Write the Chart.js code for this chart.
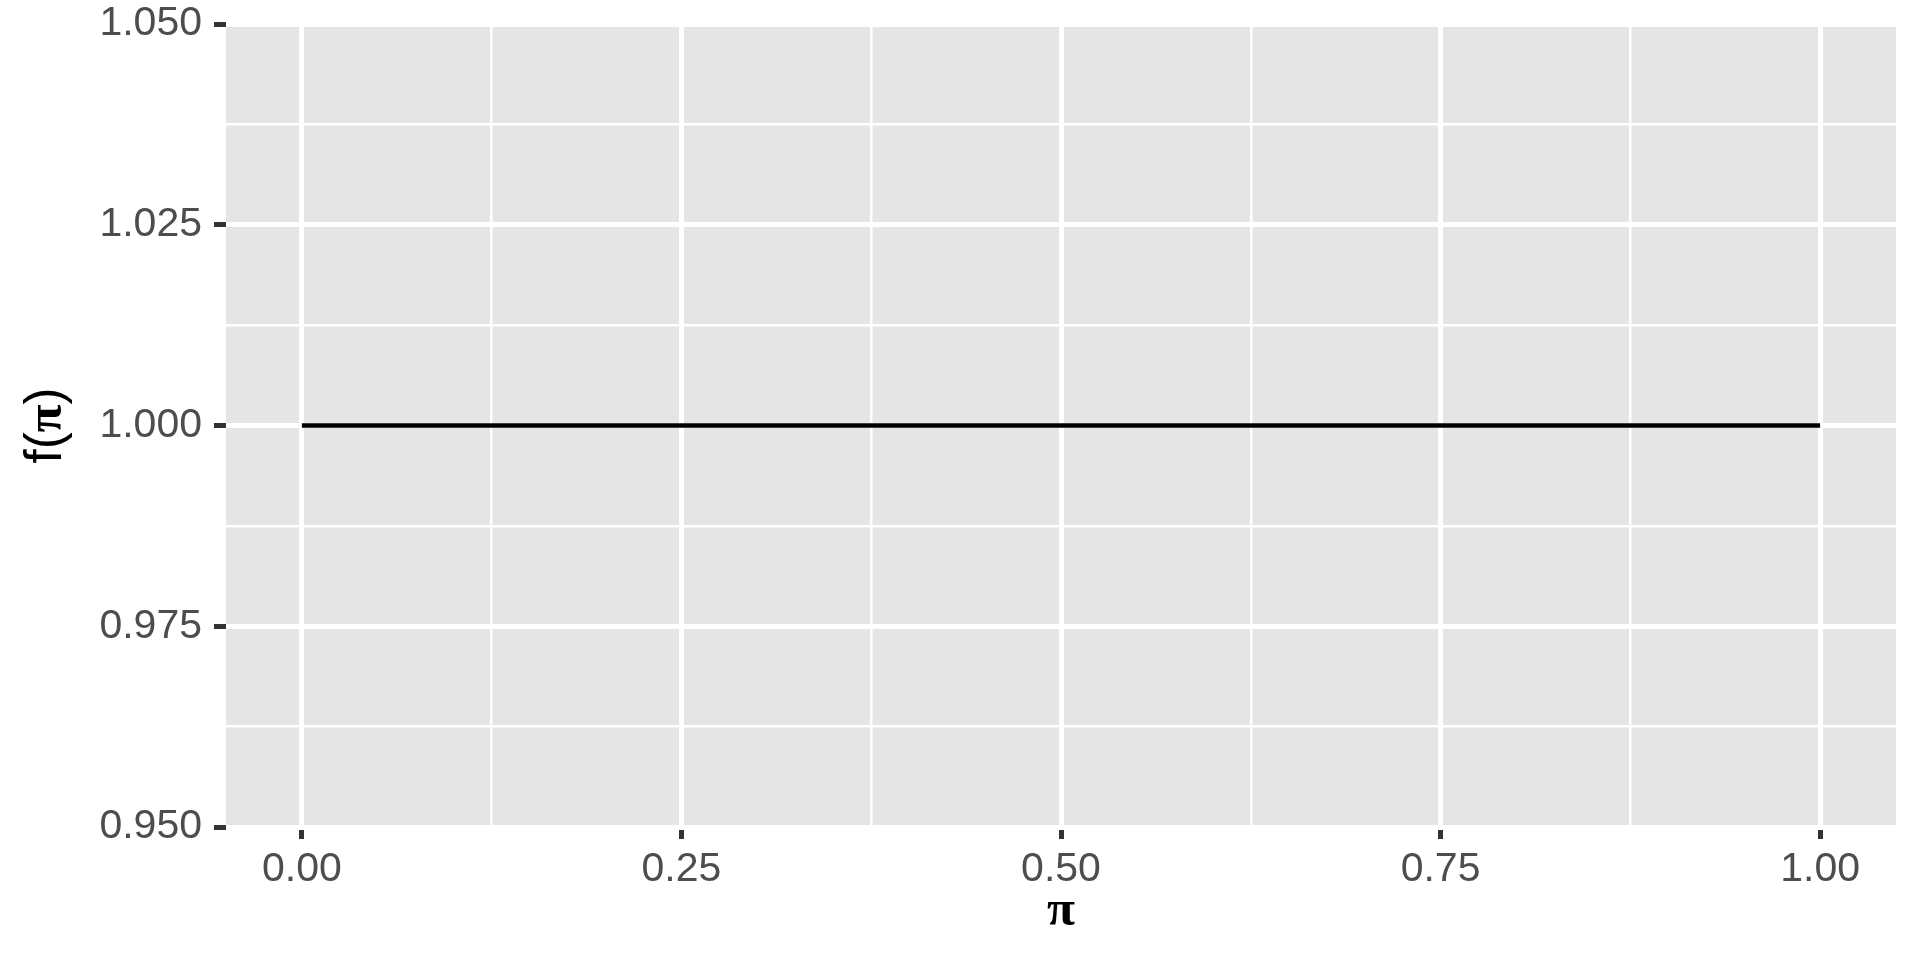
<!DOCTYPE html>
<html>
<head>
<meta charset="utf-8">
<script src="https://cdn.jsdelivr.net/npm/chart.js"></script>
<style>
  body { margin:0; padding:0; background:#ffffff }
  canvas { display:block }
</style>
</head>
<body>
<canvas id="chartCanvas" width="1920" height="960"></canvas>
<script>
  // data: uniform density f(pi) = 1 on [0, 1]
  const piValues = [0, 1];
  const density = [1, 1];

  // tick positions (ggplot style major + minor grid)
  const xMajor = [0, 0.25, 0.5, 0.75, 1];
  const xMinor = [0.125, 0.375, 0.625, 0.875];
  const yMajor = [0.95, 0.975, 1.0, 1.025, 1.05];
  const yMinor = [0.9625, 0.9875, 1.0125, 1.0375];

  const isMajor = (list, v) => list.some(m => Math.abs(m - v) < 1e-9);

  const sans = '"Liberation Sans", Arial, sans-serif';
  const serif = '"Liberation Serif", "Times New Roman", serif';
  const titleSize = 51;

  // grey panel behind the plot
  const panelBg = {
    id: 'panelBg',
    beforeDraw(chart) {
      const { ctx, chartArea: a } = chart;
      ctx.save();
      ctx.fillStyle = '#e5e5e5';
      ctx.fillRect(a.left, a.top, a.right - a.left, a.bottom - a.top);
      ctx.restore();
    }
  };

  // axis titles drawn by hand: plotmath mixes sans "f( )" with a symbol pi
  const axisTitles = {
    id: 'axisTitles',
    afterDraw(chart) {
      const { ctx, chartArea: a } = chart;
      ctx.save();
      ctx.fillStyle = '#000000';
      ctx.textBaseline = 'alphabetic';

      // x title
      ctx.font = 'bold ' + titleSize + 'px ' + serif;
      ctx.textAlign = 'center';
      ctx.fillText('π', (a.left + a.right) / 2, 925);

      // y title, rotated
      const parts = [['f(', titleSize + 'px ' + sans], ['π', 'bold ' + titleSize + 'px ' + serif], [')', titleSize + 'px ' + sans]];
      let total = 0;
      parts.forEach(p => { ctx.font = p[1]; total += ctx.measureText(p[0]).width; });
      ctx.translate(61, (a.top + a.bottom) / 2);
      ctx.rotate(-Math.PI / 2);
      ctx.textAlign = 'left';
      let x = -total / 2;
      parts.forEach(p => {
        ctx.font = p[1];
        ctx.fillText(p[0], x, 0);
        x += ctx.measureText(p[0]).width;
      });
      ctx.restore();
    }
  };

  const tickFont = { family: sans, size: 41 };

  function gridFor(major) {
    return {
      drawOnChartArea: true,
      color: '#ffffff',
      lineWidth: ctx => isMajor(major, ctx.tick.value) ? 5 : 2.5,
      tickColor: ctx => isMajor(major, ctx.tick.value) ? '#333333' : 'rgba(0,0,0,0)',
      tickWidth: ctx => isMajor(major, ctx.tick.value) ? 5 : 0,
      tickLength: 12
    };
  }

  new Chart(document.getElementById('chartCanvas'), {
    type: 'line',
    data: {
      datasets: [{
        data: piValues.map((x, i) => ({ x: x, y: density[i] })),
        borderColor: '#000000',
        borderWidth: 4.5,
        pointRadius: 0,
        fill: false,
        tension: 0
      }]
    },
    options: {
      responsive: false,
      animation: false,
      layout: { padding: { top: 24, right: 24, left: 0, bottom: 0 } },
      plugins: { legend: { display: false }, tooltip: { enabled: false } },
      scales: {
        x: {
          type: 'linear',
          min: -0.05,
          max: 1.05,
          afterBuildTicks: s => { s.ticks = xMajor.concat(xMinor).sort((a, b) => a - b).map(v => ({ value: v })); },
          afterFit: s => { s.height = 133; s.paddingLeft = 0; s.paddingRight = 0; },
          border: { display: false },
          grid: gridFor(xMajor),
          ticks: {
            autoSkip: false,
            maxRotation: 0,
            padding: 6,
            color: '#4d4d4d',
            font: tickFont,
            callback: v => isMajor(xMajor, v) ? v.toFixed(2) : ''
          }
        },
        y: {
          type: 'linear',
          min: 0.95,
          max: 1.05,
          afterBuildTicks: s => { s.ticks = yMajor.concat(yMinor).sort((a, b) => a - b).map(v => ({ value: v })); },
          afterFit: s => { s.width = 226; s.paddingTop = 0; s.paddingBottom = 0; },
          border: { display: false },
          grid: gridFor(yMajor),
          ticks: {
            autoSkip: false,
            padding: 12,
            color: '#4d4d4d',
            font: tickFont,
            callback: v => isMajor(yMajor, v) ? v.toFixed(3) : ''
          }
        }
      }
    },
    plugins: [panelBg, axisTitles]
  });
</script>
</body>
</html>
